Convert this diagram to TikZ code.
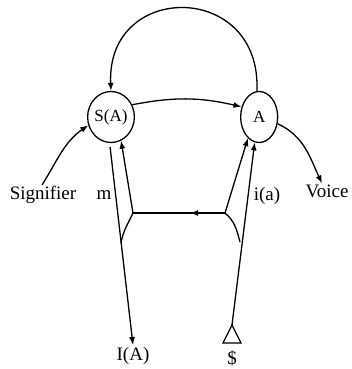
\documentclass[tikz,border=0pt]{standalone}
\usepackage{fontspec}
\setmainfont{Liberation Serif}
\usetikzlibrary{positioning,arrows.meta,shapes.geometric,decorations.markings}

\begin{document}
\begin{tikzpicture}[
  x=1pt, y=1pt,
  font=\fontsize{19}{22}\selectfont,
  node distance=105pt,
  place/.style={draw, ellipse, line width=1.3pt, minimum width=37pt,
                minimum height=51pt, inner sep=0pt, font=\fontsize{17}{19}\selectfont},
  lbl/.style={inner sep=1pt},
  ln/.style={line width=1.3pt},
  arr/.style={ln, -{Latex[length=8pt, width=6pt]}},
  midarr/.style={ln, postaction={decorate}, decoration={markings,
                 mark=at position #1 with {\arrow{Latex[length=8pt, width=6pt]}}}}
]
\useasboundingbox (0,0) rectangle (351,369);
% ---- the two places ----
\node[place] (SA) at (111,252) {S(A)};
\node[place, right=of SA] (A) {A};
% ---- labels ----
\node[lbl] (sig)   at (43,174)  {Signifier};
\node[lbl] (voice) at (327,178) {Voice};
\node[lbl] (m)     at (104,174) {m};
\node[lbl] (ia)    at (267,173) {i(a)};
\node[lbl, anchor=north, inner sep=2pt] (IA) at (133,24) {I(A)};
\node[lbl] (bar)   at (232,11)  {\$};
% ---- junctions ----
\coordinate (jl) at (133,156);
\coordinate (jr) at (225,156);
\coordinate (ml) at (121,126);
\coordinate (mr) at (240,127);
\coordinate (tip) at (232,44);
% ---- upper arcs ----
\draw[arr] (A.95) .. controls +(5,110) and +(-5,110) .. (SA.90);
\draw[arr] (SA.30) to[bend left=12] (A.150);
\draw[arr] ([xshift=-1pt]sig.north) to[out=58, in=215] (SA.200);
\draw[arr] (A.-20) to[out=-25, in=115] ([xshift=-5pt]voice.north);
% ---- lower part ----
\draw[arr, shorten <=4pt] (SA.-93) -- (IA.north);
\draw[arr] (jl) -- (SA.-67);
\draw[ln] (jl) to[out=-115, in=80] (ml);
\draw[midarr=0.38] (jr) -- (jl);
\draw[arr] (jr) -- (A.-118);
\draw[ln] (jr) to[out=-40, in=105] (mr);
\draw[arr] (tip) -- (A.-100);
\draw[ln] (tip) -- ++(-9,-18) -- ++(18,0) -- cycle;
\end{tikzpicture}
\end{document}
